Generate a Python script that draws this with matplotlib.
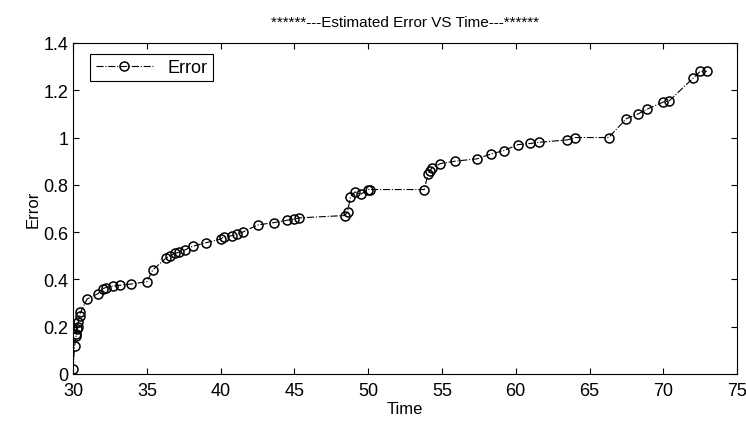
import matplotlib.pyplot as plt

plt.rcParams['font.family'] = ['Liberation Sans', 'DejaVu Sans']

# values
time = [30.0, 30.1, 30.2, 30.25, 30.3, 30.2, 30.35, 30.45, 30.5, 30.95,
        31.7, 32.0, 32.2, 32.7, 33.2, 33.9, 35.0, 35.4, 36.3, 36.6,
        36.9, 37.2, 37.6, 38.1, 39.0, 40.0, 40.2, 40.8, 41.1, 41.5,
        42.5, 43.6, 44.5, 45.0, 45.3, 48.4, 48.6, 48.8, 49.1, 49.5,
        50.0, 50.1, 53.8, 54.05, 54.2, 54.3, 54.9, 55.9, 57.4, 58.3,
        59.2, 60.15, 61.0, 61.6, 63.5, 64.0, 66.3, 67.5, 68.3, 68.9,
        70.0, 70.4, 72.0, 72.5, 72.95]
error = [0.02, 0.12, 0.16, 0.19, 0.2, 0.17, 0.22, 0.245, 0.26, 0.317,
         0.34, 0.36, 0.365, 0.372, 0.375, 0.38, 0.39, 0.44, 0.49, 0.5,
         0.51, 0.515, 0.525, 0.54, 0.555, 0.57, 0.58, 0.585, 0.59, 0.6,
         0.63, 0.64, 0.65, 0.655, 0.66, 0.67, 0.685, 0.75, 0.77, 0.76,
         0.78, 0.78, 0.78, 0.845, 0.86, 0.87, 0.89, 0.9, 0.91, 0.93,
         0.945, 0.97, 0.975, 0.98, 0.99, 1.0, 1.0, 1.08, 1.1, 1.12,
         1.15, 1.155, 1.25, 1.28, 1.28]

fig = plt.figure(figsize=(7.46, 4.27), dpi=100)
ax = fig.add_axes([0.098, 0.122, 0.89, 0.775])

ax.plot(time, error, '-.o', color='black', linewidth=0.8,
        markersize=6.5, markerfacecolor='none', markeredgewidth=1.1, label='Error')

ax.set_xlim(30, 75)
ax.set_ylim(0, 1.4)
ax.set_xticks([30, 35, 40, 45, 50, 55, 60, 65, 70, 75])
ax.set_yticks([0, 0.2, 0.4, 0.6, 0.8, 1.0, 1.2, 1.4])
ax.set_yticklabels(['0', '0.2', '0.4', '0.6', '0.8', '1', '1.2', '1.4'])
ax.tick_params(direction='in', top=True, right=True, labelsize=13, length=4)
ax.tick_params(axis='x', pad=6)

ax.set_title('******---Estimated Error VS Time---******', fontsize=11, pad=12)
ax.set_xlabel('Time', fontsize=12, labelpad=1)
ax.set_ylabel('Error', fontsize=12, labelpad=2)

leg = ax.legend(loc='upper left', fontsize=13, fancybox=False, framealpha=1,
                edgecolor='black', borderaxespad=0.5, handlelength=3.2,
                borderpad=0.3, bbox_to_anchor=(0.012, 0.995))
leg.get_frame().set_linewidth(0.8)

fig.savefig('out.png', dpi=100)
